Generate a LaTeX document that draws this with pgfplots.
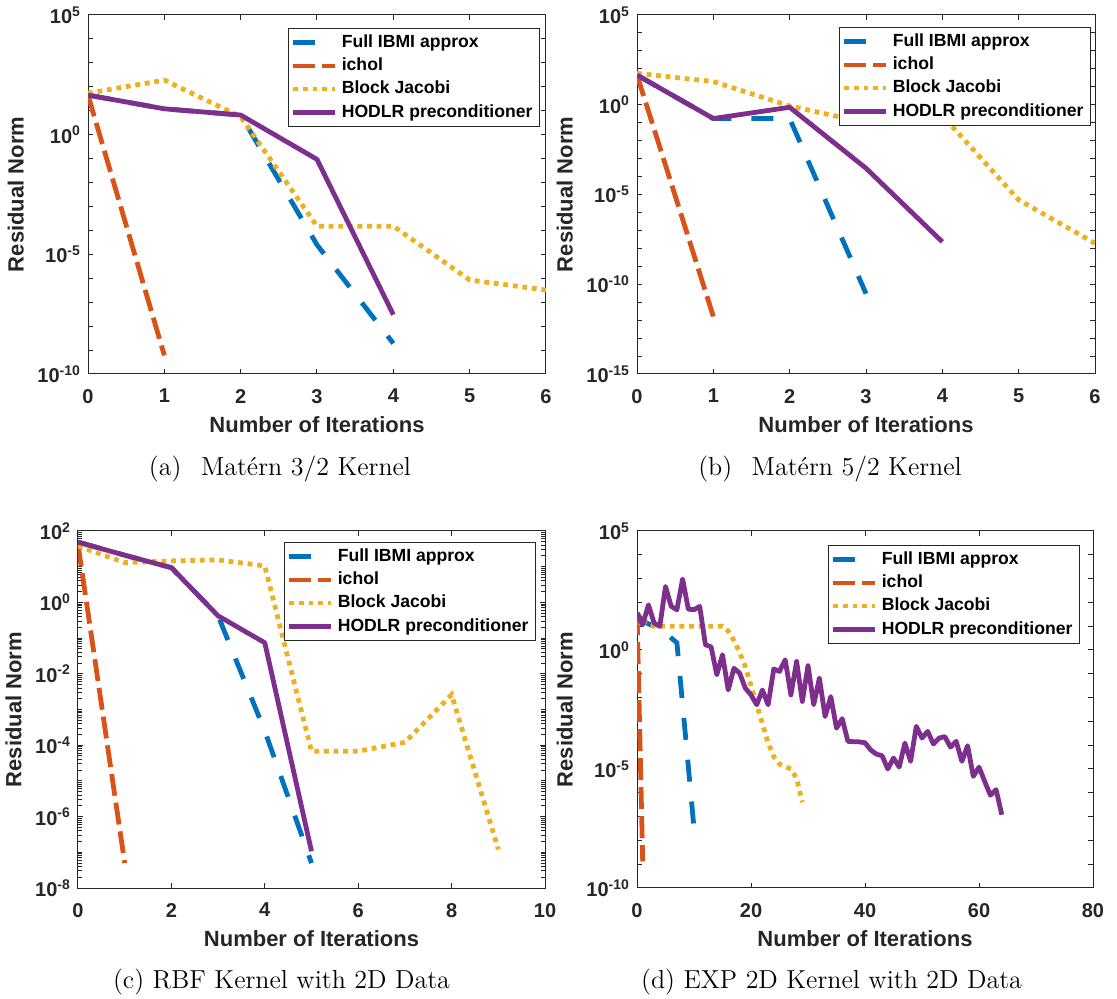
\documentclass[border=0pt]{standalone}
\usepackage{fontspec}
\usepackage{pgfplots}
\pgfplotsset{compat=1.18}
\newfontfamily\hv{Liberation Sans}
\definecolor{mblue}{rgb}{0,0.447,0.741}
\definecolor{morange}{rgb}{0.850,0.325,0.098}
\definecolor{myellow}{rgb}{0.929,0.694,0.125}
\definecolor{mpurple}{rgb}{0.494,0.184,0.556}
\definecolor{axgray}{rgb}{0.15,0.15,0.15}
\tikzset{
  sIBMI/.style={mblue, line width=2.4pt, dash pattern=on 11pt off 10pt},
  sichol/.style={morange, line width=2.4pt, dash pattern=on 11pt off 3.5pt},
  sbj/.style={myellow, line width=2.4pt, dash pattern=on 2.4pt off 2.4pt},
  shodlr/.style={mpurple, line width=2.4pt, line join=round},
}
\pgfplotsset{
  every axis plot post/.append style={legend image code/.code={\draw[##1] (0pt,0pt) -- (21pt,0pt);}},
  every axis/.append style={
    scale only axis,
    axis line style={axgray, line width=0.5pt},
    major tick length=2.6pt, minor tick length=2.6pt,
    /pgf/number format/assume math mode=true,
    tick label style={font=\hv\bfseries\fontsize{10}{12}\selectfont, text=axgray},
    xticklabel style={yshift=-4pt},
    label style={font=\hv\bfseries\fontsize{11}{13}\selectfont, text=axgray},
    xlabel style={yshift=0pt},
    xlabel={Number of Iterations}, ylabel={Residual Norm},
    legend style={font=\hv\bfseries\fontsize{8.8}{11}\selectfont, draw=axgray, line width=0.5pt,
      at={(1,1)}, anchor=north east, inner xsep=1.5pt, inner ysep=1.2pt, row sep=-0.3pt},
    legend cell align=left,
  },
  every tick/.append style={axgray, line width=0.5pt},
}
\begin{document}
\begin{tikzpicture}
% ---------------- (a) ----------------
\begin{semilogyaxis}[at={(44pt,312.5pt)}, anchor=south west, width=229pt, height=179.5pt,
  xmin=0, xmax=6, ymin=1e-10, ymax=1e5, xtick={0,1,2,3,4,5,6},
  ytick={1e-10,1e-5,1,1e5},
  yticklabels={10\textsuperscript{-10},10\textsuperscript{-5},10\textsuperscript{0},10\textsuperscript{5}},
  minor ytick={1e-9,1e-8,1e-7,1e-6,1e-4,1e-3,1e-2,1e-1,1e1,1e2,1e3,1e4},
  legend style={xshift=-3pt, yshift=-6.5pt}]
\addplot[sIBMI] coordinates {(0,45) (1,12) (2,6.6) (3,2.5e-5) (4,1.9e-9)};
\addplot[sichol] coordinates {(0,45) (1,6e-10)};
\addplot[sbj] coordinates {(0,54) (1,190) (2,5.6) (3,1.5e-4) (4,1.5e-4) (5,8.5e-7) (6,3.2e-7)};
\addplot[shodlr] coordinates {(0,45) (1,12) (2,6.6) (3,0.093) (4,3e-8)};
\legend{Full IBMI approx, ichol, Block Jacobi, HODLR preconditioner}
\end{semilogyaxis}
% ---------------- (b) ----------------
\begin{semilogyaxis}[at={(318.5pt,312.5pt)}, anchor=south west, width=229pt, height=179.5pt,
  xmin=0, xmax=6, ymin=1e-15, ymax=1e5, xtick={0,1,2,3,4,5,6},
  ytick={1e-15,1e-10,1e-5,1,1e5},
  yticklabels={10\textsuperscript{-15},10\textsuperscript{-10},10\textsuperscript{-5},10\textsuperscript{0},10\textsuperscript{5}},
  minor ytick={1e-14,1e-13,1e-12,1e-11,1e-9,1e-8,1e-7,1e-6,1e-4,1e-3,1e-2,1e-1,1e1,1e2,1e3,1e4},
  legend style={xshift=-2pt, yshift=-6pt}]
\addplot[sIBMI] coordinates {(0,45) (1,0.17) (2,0.17) (3,3e-11)};
\addplot[sichol] coordinates {(0,45) (1,1.6e-12)};
\addplot[sbj] coordinates {(0,56) (1,19.5) (2,0.85) (3,0.1) (4,0.25) (5,5e-6) (6,1.9e-8)};
\addplot[shodlr] coordinates {(0,45) (1,0.17) (2,0.72) (3,2.9e-4) (4,2.3e-8)};
\legend{Full IBMI approx, ichol, Block Jacobi, HODLR preconditioner}
\end{semilogyaxis}
% ---------------- (c) ----------------
\begin{semilogyaxis}[at={(39pt,55.5pt)}, anchor=south west, width=233.5pt, height=178.5pt,
  xmin=0, xmax=10, ymin=1e-8, ymax=1e2, xtick={0,2,4,6,8,10},
  ytick={1e-8,1e-6,1e-4,1e-2,1,1e2},
  yticklabels={10\textsuperscript{-8},10\textsuperscript{-6},10\textsuperscript{-4},10\textsuperscript{-2},10\textsuperscript{0},10\textsuperscript{2}},
  minor tick length=1.8pt,
  minor ytick={2e-8,3e-8,4e-8,5e-8,6e-8,7e-8,8e-8,9e-8,1e-7,2e-7,3e-7,4e-7,5e-7,6e-7,7e-7,8e-7,9e-7,
    2e-6,3e-6,4e-6,5e-6,6e-6,7e-6,8e-6,9e-6,1e-5,2e-5,3e-5,4e-5,5e-5,6e-5,7e-5,8e-5,9e-5,
    2e-4,3e-4,4e-4,5e-4,6e-4,7e-4,8e-4,9e-4,1e-3,2e-3,3e-3,4e-3,5e-3,6e-3,7e-3,8e-3,9e-3,
    2e-2,3e-2,4e-2,5e-2,6e-2,7e-2,8e-2,9e-2,1e-1,2e-1,3e-1,4e-1,5e-1,6e-1,7e-1,8e-1,9e-1,
    2,3,4,5,6,7,8,9,10,20,30,40,50,60,70,80,90},
  legend style={xshift=-4.5pt, yshift=-5.5pt}]
\addplot[sIBMI] coordinates {(0,49) (1,21) (2,9.4) (3,0.42) (4,2.5e-4) (5,5e-8)};
\addplot[sichol] coordinates {(0,42) (1,5e-8)};
\addplot[sbj] coordinates {(0,38) (1,13) (2,14.5) (3,15.5) (4,10.5) (5,6.8e-5) (6,6.8e-5) (7,1.2e-4) (8,2.6e-3) (9,1.2e-7)};
\addplot[shodlr] coordinates {(0,49) (1,21) (2,9.4) (3,0.42) (4,0.074) (5,1.07e-7)};
\legend{Full IBMI approx, ichol, Block Jacobi, HODLR preconditioner}
\end{semilogyaxis}
% ---------------- (d) ----------------
\begin{semilogyaxis}[at={(318.5pt,55.5pt)}, anchor=south west, width=228pt, height=178.5pt,
  xmin=0, xmax=80, ymin=1e-10, ymax=1e5, xtick={0,20,40,60,80},
  ytick={1e-10,1e-5,1,1e5},
  yticklabels={10\textsuperscript{-10},10\textsuperscript{-5},10\textsuperscript{0},10\textsuperscript{5}},
  minor ytick={1e-9,1e-8,1e-7,1e-6,1e-4,1e-3,1e-2,1e-1,1e1,1e2,1e3,1e4},
  legend style={xshift=-6.5pt, yshift=-7pt}]
\addplot[sIBMI] coordinates {(0,35.5) (1,17) (2,12.6) (3,10) (4,7.9) (5,5.2) (6,3.2) (7,2) (8,5e-3) (9,1.3e-5) (10,3.2e-8)};
\addplot[sichol] coordinates {(0,35.5) (1,1.3e-9)};
\addplot[sbj] coordinates {(0,35.5) (1,15.8) (2,11.2) (3,10) (4,10) (5,10) (6,10) (7,10) (8,10) (9,10) (10,10) (11,10) (12,10) (13,10) (14,10) (15,10) (16,6.3) (17,2.5) (18,0.8) (19,0.2) (20,0.032) (21,5e-3) (22,8e-4) (23,1.26e-4) (24,3.2e-5) (25,1.6e-5) (26,1.26e-5) (27,1e-5) (28,4e-6) (29,4e-7)};
\addplot[shodlr] coordinates {(0,35.5) (1,11.5) (2,79) (3,13.5) (4,9.8) (5,468) (6,68) (7,49) (8,955) (9,52) (10,49) (11,68) (12,1.66) (13,1.35) (14,0.091) (15,0.63) (16,0.021) (17,0.17) (18,0.107) (19,0.025) (20,0.013) (21,0.005) (22,0.021) (23,0.005) (24,0.16) (25,0.126) (26,0.39) (27,0.013) (28,0.33) (29,0.0069) (30,0.22) (31,0.005) (32,0.066) (33,0.0016) (34,0.011) (35,5.2e-4) (36,1.3e-3) (37,1.45e-4) (38,1.4e-4) (39,1.38e-4) (40,1.26e-4) (41,6.3e-5) (42,4.2e-5) (43,3.6e-5) (44,1e-5) (45,2.9e-5) (46,1.2e-5) (47,1.23e-4) (48,2.1e-5) (49,6.2e-4) (50,2e-4) (51,3.8e-4) (52,1.12e-4) (53,2e-4) (54,2.3e-4) (55,8.3e-5) (56,1.45e-4) (57,2.1e-5) (58,9.5e-5) (59,4.9e-6) (60,1.2e-5) (61,3e-6) (62,7.9e-7) (63,1.35e-6) (64,1.2e-7)};
\legend{Full IBMI approx, ichol, Block Jacobi, HODLR preconditioner}
\end{semilogyaxis}
% ---------------- captions ----------------
\node[font=\fontsize{13}{15}\selectfont, inner sep=0pt] at (140pt,265pt) {(a)\hspace{0.75em}Matérn 3/2 Kernel};
\node[font=\fontsize{13}{15}\selectfont, inner sep=0pt] at (415pt,265pt) {(b)\hspace{0.75em}Matérn 5/2 Kernel};
\node[font=\fontsize{13}{15}\selectfont, inner sep=0pt] at (140.75pt,8.25pt) {(c) RBF Kernel with 2D Data};
\node[font=\fontsize{13}{15}\selectfont, inner sep=0pt] at (415.75pt,8.25pt) {(d) EXP 2D Kernel with 2D Data};
\pgfresetboundingbox
\path[use as bounding box] (0,0) rectangle (558.5pt,499.5pt);
\end{tikzpicture}
\end{document}
